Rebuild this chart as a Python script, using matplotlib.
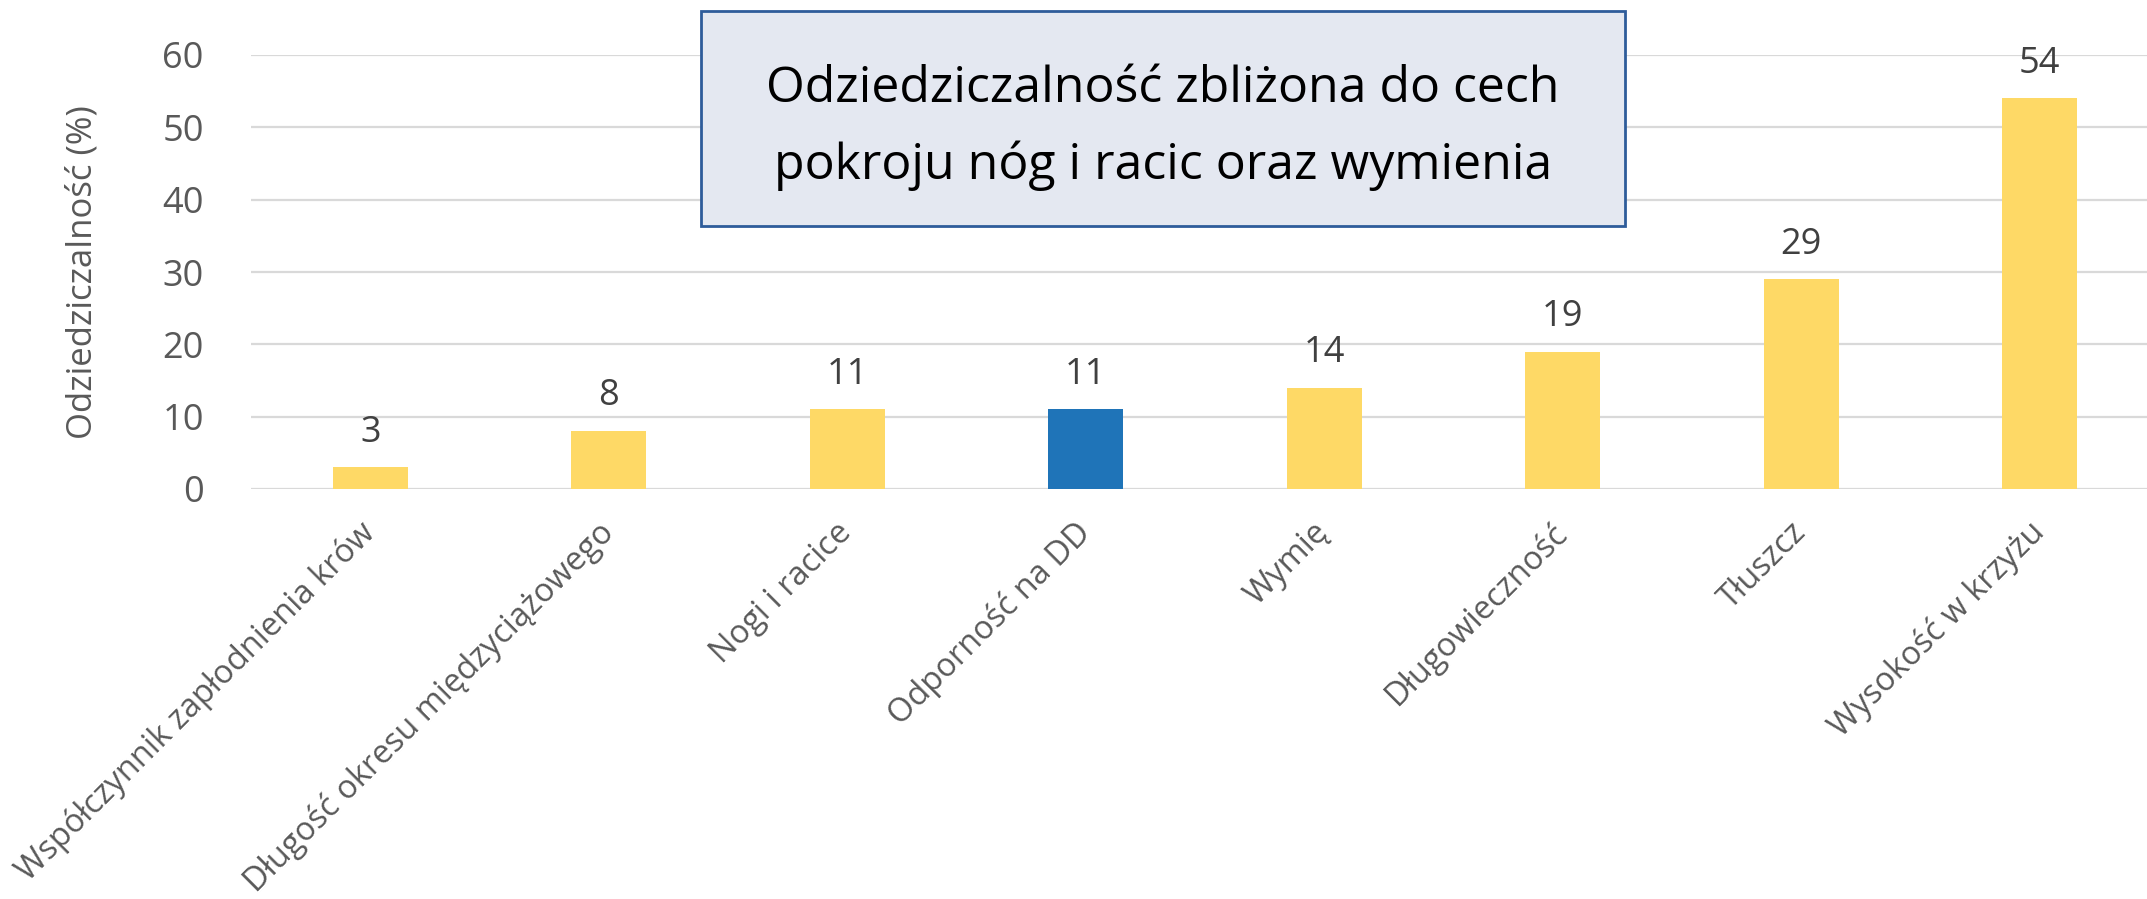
import matplotlib.pyplot as plt
from matplotlib.patches import Rectangle

plt.rcParams['font.family'] = ['Open Sans', 'DejaVu Sans']

categories = ['Współczynnik zapłodnienia krów', 'Długość okresu międzyciążowego',
              'Nogi i racice', 'Odporność na DD', 'Wymię', 'Długowieczność',
              'Tłuszcz', 'Wysokość w krzyżu']
values = [3, 8, 11, 11, 14, 19, 29, 54]
highlight = 'Odporność na DD'

yellow = '#FED966'
blue = '#1F74B8'
colors = [blue if c == highlight else yellow for c in categories]

fig = plt.figure(figsize=(21.47, 8.99), dpi=100)
ax = fig.add_axes([251 / 2147, 1 - 489 / 899, 1908 / 2147, 434 / 899])

x = range(len(categories))
bars = ax.bar(x, values, width=0.315, color=colors, zorder=3)

ax.set_xlim(-0.5, len(categories) - 0.5)
ax.set_ylim(0, 60)
ax.set_yticks(range(0, 61, 10))
ax.yaxis.grid(True, color='#D9D9D9', linewidth=1.6, zorder=0)
ax.set_axisbelow(True)
for s in ax.spines.values():
    s.set_visible(False)

ax.tick_params(axis='y', length=0, pad=34, labelsize=26, labelcolor='#595959')
ax.tick_params(axis='x', length=0, pad=28, labelsize=23.5, labelcolor='#595959')
ax.set_xticks(list(x))
ax.set_xticklabels(categories, rotation=45, ha='right', va='center',
                   rotation_mode='anchor')

ax.set_ylabel('Odziedziczalność (%)', fontsize=25, color='#595959', labelpad=45)

for b, v in zip(bars, values):
    ax.annotate(str(v), (b.get_x() + b.get_width() / 2, v), xytext=(0, 12),
                textcoords='offset points', ha='center', va='bottom',
                fontsize=26, color='#404040')

# title box
box = Rectangle((701 / 2147, 1 - 226 / 899), 924 / 2147, 215 / 899,
                transform=fig.transFigure, facecolor='#E4E8F1',
                edgecolor='#2E5C9A', linewidth=2, zorder=5)
fig.add_artist(box)
fig.text((701 + 462) / 2147, 1 - 128 / 899,
         'Odziedziczalność zbliżona do cech\npokroju nóg i racic oraz wymienia',
         ha='center', va='center', fontsize=36, color='#000000',
         linespacing=1.7, zorder=6)

fig.savefig('out.png', dpi=100)
